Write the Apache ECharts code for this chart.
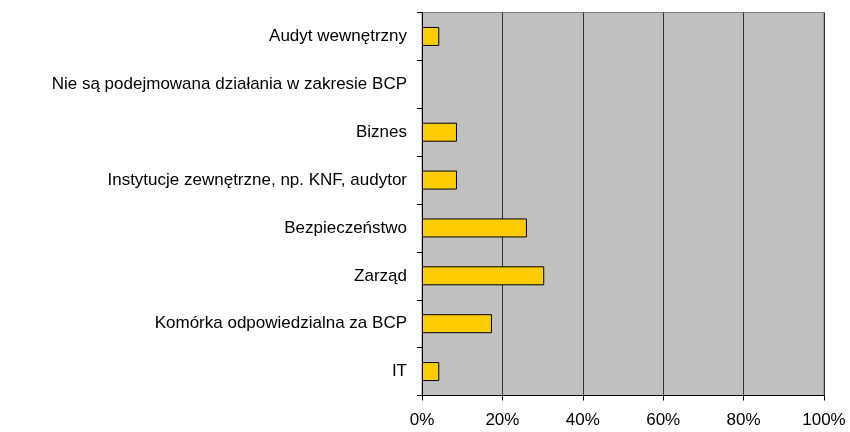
<!DOCTYPE html>
<html>
<head>
<meta charset="utf-8">
<script src="https://cdn.jsdelivr.net/npm/echarts@6/dist/echarts.min.js"></script>
<style>html,body{margin:0;padding:0;background:#fff}#c{width:850px;height:432px}</style>
</head>
<body>
<div id="c"></div>
<script>
var categories = ["Audyt wewnętrzny","Nie są podejmowana działania w zakresie BCP","Biznes","Instytucje zewnętrzne, np. KNF, audytor","Bezpieczeństwo","Zarząd","Komórka odpowiedzialna za BCP","IT"];
var values = [4.3, 0, 8.7, 8.7, 26.1, 30.4, 17.4, 4.3];
var xTicks = [0, 20, 40, 60, 80, 100];

var chart = echarts.init(document.getElementById('c'), null, {renderer:'canvas'});
chart.setOption({
  animation: false,
  grid: {left: 422, right: 26, top: 12.5, bottom: 36.5, show: true, backgroundColor: '#C0C0C0', borderColor: '#808080', borderWidth: 1},
  xAxis: {
    type: 'value', min: xTicks[0], max: xTicks[xTicks.length-1], interval: 20,
    axisLine: {show: true, lineStyle: {color: '#000', width: 1}},
    axisTick: {show: true, length: 5, lineStyle: {color: '#000'}},
    splitLine: {show: true, lineStyle: {color: '#333', width: 1}},
    axisLabel: {formatter: '{value}%', color: '#000', fontFamily: 'Liberation Sans, Arial', fontSize: 17, margin: 16}
  },
  yAxis: {
    type: 'category', data: categories, inverse: true,
    axisLine: {show: true, lineStyle: {color: '#000', width: 1}},
    axisTick: {show: true, length: 5, lineStyle: {color: '#000'}},
    splitLine: {show: false},
    axisLabel: {color: '#000', fontFamily: 'Liberation Sans, Arial', fontSize: 17, margin: 15}
  },
  series: [{
    type: 'bar', barWidth: 19,
    data: values.map(function (v) {
      return v === 0 ? {value: v, itemStyle: {borderWidth: 0, opacity: 0}} : v;
    }),
    itemStyle: {color: '#FFCC00', borderColor: '#000', borderWidth: 1}
  }]
});
</script>
</body>
</html>
